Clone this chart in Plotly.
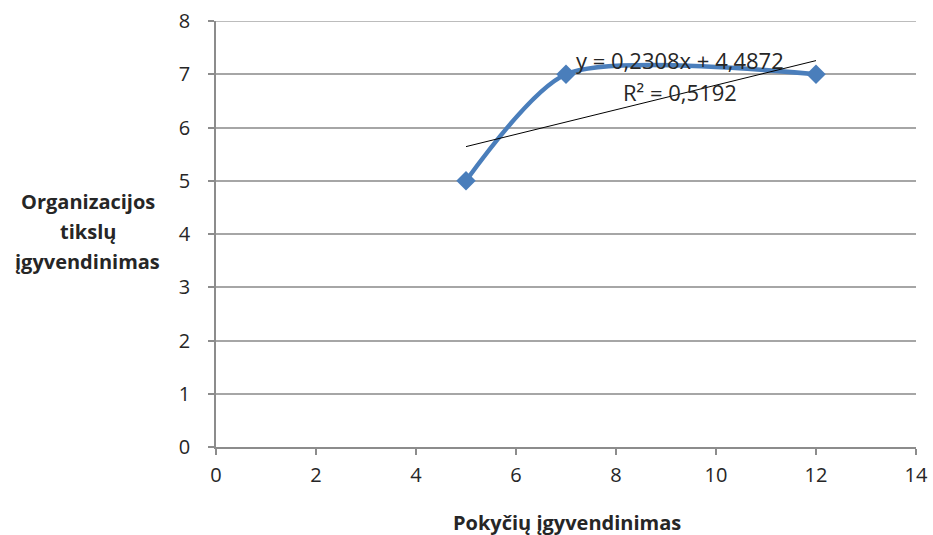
import numpy as np
import plotly.graph_objects as go

x_vals = [5, 7, 12]
y_vals = [5, 7, 7]
x_title = "Pokyčių įgyvendinimas"
y_title_lines = ["Organizacijos", "tikslų", "įgyvendinimas"]

slope, intercept = np.polyfit(x_vals, y_vals, 1)
pred = slope * np.array(x_vals) + intercept
ss_res = np.sum((np.array(y_vals) - pred) ** 2)
ss_tot = np.sum((np.array(y_vals) - np.mean(y_vals)) ** 2)
r2 = 1 - ss_res / ss_tot
trend_x = [min(x_vals), max(x_vals)]
trend_y = [slope * v + intercept for v in trend_x]

font = "'Open Sans', sans-serif"
txt = "#262626"
fig = go.Figure()
fig.add_trace(go.Scatter(x=x_vals, y=y_vals, mode="lines+markers",
                         line=dict(color="#4a7ebb", width=4.5, shape="spline", smoothing=0.7),
                         marker=dict(symbol="diamond", size=15, color="#4a7ebb"),
                         showlegend=False))
fig.add_trace(go.Scatter(x=trend_x, y=trend_y, mode="lines",
                         line=dict(color="#000000", width=1), showlegend=False))

eq = f"y = {slope:.4f}x + {intercept:.4f}".replace(".", ",")
r2t = f"R² = {r2:.4f}".replace(".", ",")
fig.add_annotation(x=9.28, y=7.27, text=eq, showarrow=False,
                   font=dict(family=font, size=22, color=txt))
fig.add_annotation(x=9.28, y=6.66, text=r2t, showarrow=False,
                   font=dict(family=font, size=22, color=txt))
for i, line in enumerate(y_title_lines):
    fig.add_annotation(xref="paper", yref="paper", x=-0.183,
                       y=(535 - 88 - (201 + 30 * i)) / (535 - 21 - 88),
                       text="<b>" + line + "</b>", showarrow=False,
                       xanchor="center", yanchor="middle",
                       font=dict(family=font, size=20, color=txt))
fig.add_annotation(xref="paper", yref="paper", x=(567 - 216) / 700, y=-(522 - 447) / 426,
                   text="<b>" + x_title + "</b>", showarrow=False, yanchor="middle",
                   font=dict(family=font, size=20, color=txt))
fig.add_shape(type="line", xref="paper", yref="y", x0=0, x1=1, y0=8, y1=8,
              line=dict(color="#a6a6a6", width=1.5), layer="below")

fig.update_layout(width=933, height=535, margin=dict(l=216, r=17, t=21, b=88, autoexpand=False),
                  plot_bgcolor="white", paper_bgcolor="white",
                  font=dict(family=font, size=20, color=txt))
fig.update_xaxes(range=[0, 14], dtick=2, showgrid=False, zeroline=False, automargin=False,
                 showline=True, linecolor="#8c8c8c", linewidth=1.5,
                 ticks="outside", ticklen=6, tickcolor="#8c8c8c", tickwidth=1.5,
                 ticklabelstandoff=3)
fig.update_yaxes(range=[0, 8], dtick=1, showgrid=True, gridcolor="#a6a6a6", gridwidth=1.5,
                 zeroline=False, showline=True, linecolor="#8c8c8c", linewidth=1.5, automargin=False,
                 ticks="outside", ticklen=6, tickcolor="#8c8c8c", tickwidth=1.5,
                 ticklabelstandoff=14)
fig.write_html("out.html")
